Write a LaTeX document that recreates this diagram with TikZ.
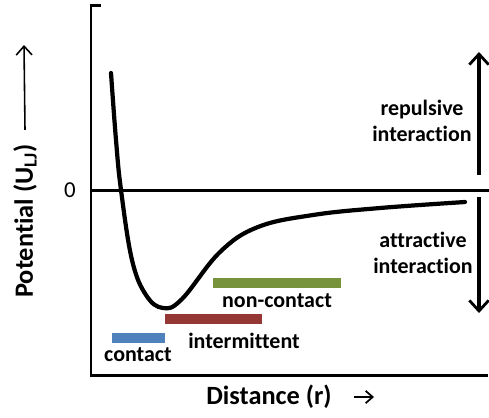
\documentclass[tikz,border=0pt]{standalone}
\usepackage{fontspec}
\setsansfont{Carlito}[Ligatures=NoCommon]
\usetikzlibrary{arrows.meta, positioning, calc}

\definecolor{barblue}{HTML}{4F81BD}
\definecolor{barred}{HTML}{953735}
\definecolor{bargreen}{HTML}{77933C}

\tikzset{
  lbl/.style={font=\sffamily\bfseries\fontsize{12.5}{14}\selectfont, align=center, inner sep=0pt},
  axlbl/.style={font=\sffamily\bfseries\fontsize{15}{17}\selectfont, inner sep=0pt},
  rangebar/.style={line width=5.5pt},
  bigarrow/.style={line width=1.8pt, -{Straight Barb[length=6pt, width=11pt, line width=1.6pt]}},
}

\begin{document}
\begin{tikzpicture}[x=0.02cm, y=-0.02cm]
  \useasboundingbox (0,0) rectangle (489,417);
  % frame and zero line
  \draw[line width=1.7pt, line cap=rect] (100,5) -- (91,5) -- (91,375) -- (486,375);
  \draw[line width=1.7pt] (91,190) -- (489,190);
  \node[font=\sffamily\fontsize{13}{15}\selectfont, inner sep=0pt] (zero) at (70,190) {0};
  % potential curve
  \draw[line width=2.4pt, line cap=round] plot[smooth, tension=0.65] coordinates
    {(111,73) (116,140) (121,190) (132,260) (146,295) (163,308) (182,299)
     (220,252) (258,227) (313,215) (380,208) (465,202)};
  % operating ranges
  \draw[rangebar, bargreen] (213,283) -- (341,283);
  \draw[rangebar, barred]   (165,319) -- (262,319);
  \draw[rangebar, barblue]  (112,338) -- (165,338);
  \node[lbl] (noncontact)   at (277,301) {non-contact};
  \node[lbl] (intermittent) at (244,341) {intermittent};
  \node[lbl] (contact)      at (138,355) {contact};
  % interaction regions
  \coordinate (repA) at (479,175);
  \coordinate (repB) at (479,52);
  \coordinate (attA) at (479,197);
  \coordinate (attB) at (479,313);
  \draw[bigarrow] (repA) -- (repB);
  \draw[bigarrow] (attA) -- (attB);
  \node[lbl] (repulsive)  at (422,121) {repulsive\\[1pt]interaction};
  \node[lbl] (attractive) at (423,253) {attractive\\[1pt]interaction};
  % axis titles
  \node[axlbl, rotate=90] (ylab) at (25,221) {Potential (U\textsubscript{LJ})};
  \coordinate (ytip) at (24,45);
  \draw[line width=0.9pt, -{Straight Barb[length=5pt, width=9pt]}] (ylab.east) ++(0,-14) coordinate (ybase) -- (ytip);
  \node[axlbl] (xlab) at (269,397) {Distance (r)};
  \coordinate (xtip) at (374,397);
  \draw[line width=1pt, -{Straight Barb[length=4pt, width=7pt]}] (xlab.east) ++(22,0) -- (xtip);
\end{tikzpicture}
\end{document}
